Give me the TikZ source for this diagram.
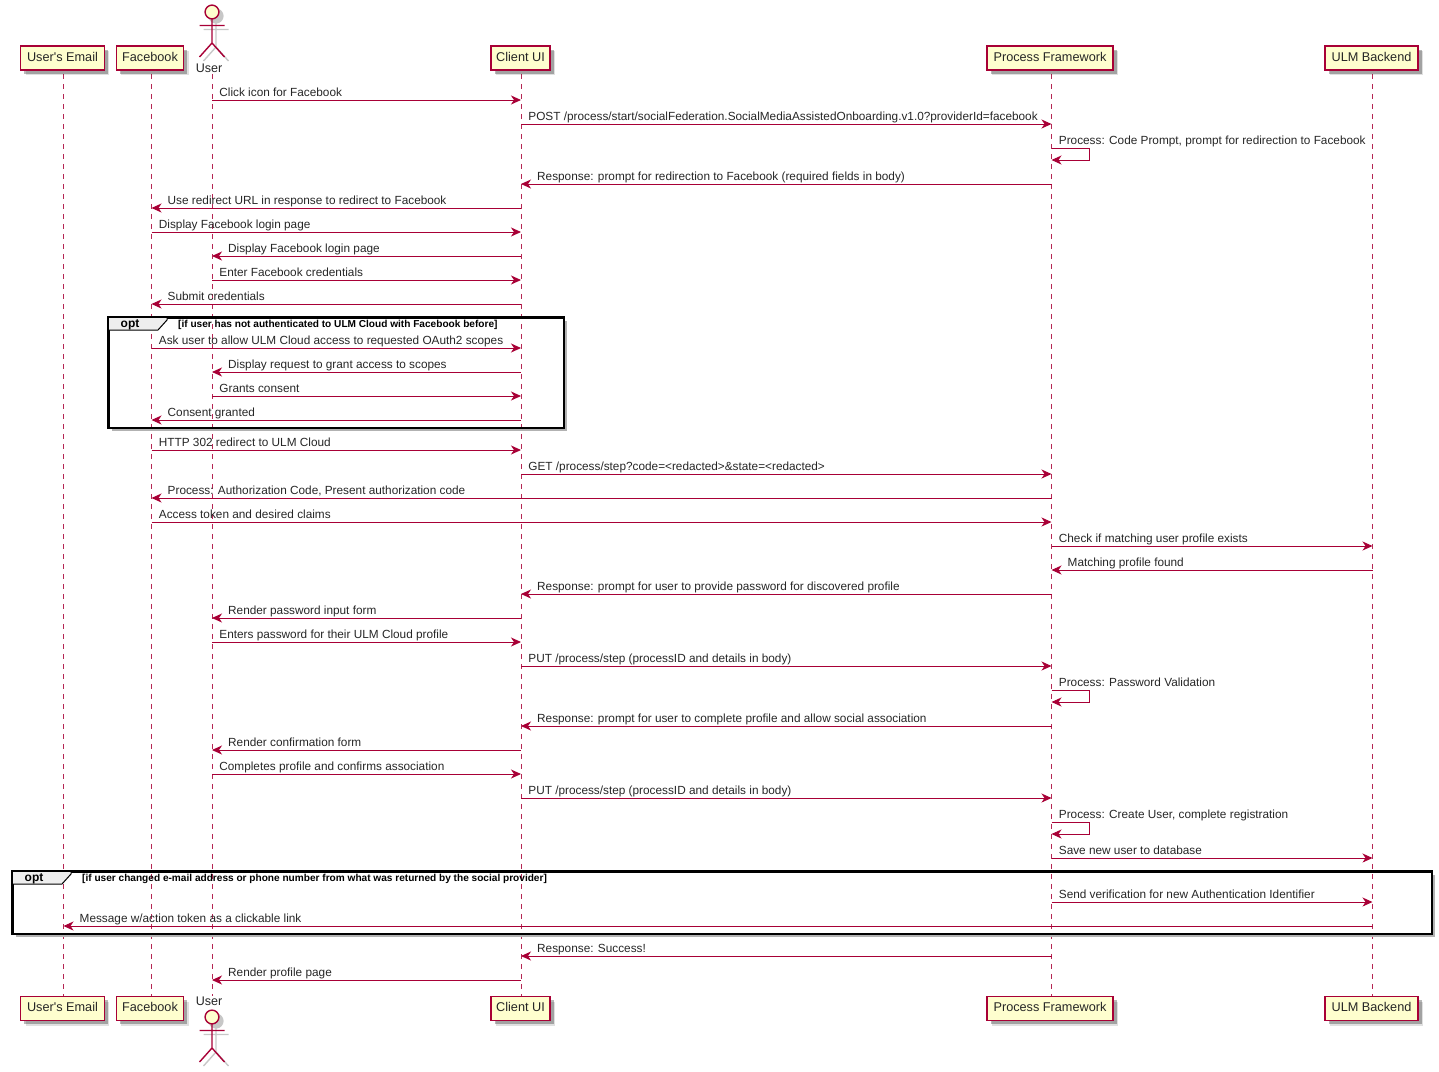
\documentclass[tikz,border=0pt]{standalone}
\usepackage{fontspec}
\setmainfont{Liberation Sans}
\usetikzlibrary{arrows.meta, shadows, calc}
\definecolor{seqred}{HTML}{A80036}
\definecolor{partfill}{HTML}{FEFECE}
\definecolor{tabfill}{HTML}{EEEEEE}
\tikzset{
	partbox/.style={draw=seqred, fill=partfill, line width=1.1pt, minimum height=24pt, inner sep=0pt, text=black!85, text height=9.5pt, text depth=2.8pt, font=\fontsize{12.7}{14}\selectfont,
		drop shadow={shadow xshift=5pt, shadow yshift=-5pt, fill=black, opacity=.12},
		drop shadow={shadow xshift=3.5pt, shadow yshift=-3.5pt, fill=black, opacity=.28}},
	lifeline/.style={seqred!85, line width=.8pt, dash pattern=on 5pt off 5pt},
	msg/.style={seqred, line width=.9pt, -{Stealth[length=10pt, width=9pt, inset=3pt]}},
	msglabel/.style={anchor=base west, inner sep=0pt, text=black!85, font=\fontsize{11.8}{13}\selectfont},
	actorname/.style={inner sep=0pt, text=black!85, font=\fontsize{12.5}{14}\selectfont},
	groupframe/.style={draw=black, line width=1.6pt, anchor=north west, inner sep=0pt},
	groupshadow/.style={black!30, line width=3.5pt},
	grouptab/.style={draw=black, fill=tabfill, line width=1pt},
	optlabel/.style={inner sep=0pt, font=\bfseries\fontsize{12}{14}\selectfont},
	guardlabel/.style={anchor=west, inner sep=0pt, font=\bfseries\fontsize{10.1}{12}\selectfont},
	actor/.pic={
		\foreach \shift/\col/\fil in {4/black!22/black!22, 0/seqred/partfill} {
			\begin{scope}[shift={(\shift,\shift)}, line width=1.4pt, draw=\col]
				\draw[fill=\fil] (0,8) circle (6.9pt);
				\draw (0,15) -- (0,39) (-12.5,21.5) -- (12.5,21.5) (-12.5,53) -- (0,39) -- (12.5,53);
			\end{scope}
		}
	}
}
\begin{document}
\begin{tikzpicture}[x=1pt, y=-1pt]
	\useasboundingbox (0,0) rectangle (1439,1071);

	% lifeline positions
	\coordinate (email) at (63.5,0);
	\coordinate (fb) at (151.5,0);
	\coordinate (user) at (212,0);
	\coordinate (client) at (521,0);
	\coordinate (pf) at (1051.5,0);
	\coordinate (ulm) at (1372.5,0);

	\foreach \who in {email, fb, user, client, pf, ulm} {
		\coordinate (\who top) at (\who |- 0,74);
		\coordinate (\who end) at (\who |- 0,996);
		\draw[lifeline] (\who top) -- (\who end);
	}

	% participants
	\foreach \pos/\yy in {T/58, B/1008.5} {
		\node[partbox, minimum width=83.5pt] (email\pos) at (62.5,\yy) {User\textquotesingle s Email};
		\node[partbox, minimum width=67.5pt] (fb\pos) at (150,\yy) {Facebook};
		\node[partbox, minimum width=59pt] (client\pos) at (520.5,\yy) {Client UI};
		\node[partbox, minimum width=126pt] (pf\pos) at (1050,\yy) {Process Framework};
		\node[partbox, minimum width=93pt] (ulm\pos) at (1371.5,\yy) {ULM Backend};
	}
	\pic (userT) at (212,4) {actor};
	\node[actorname] (userTname) at (209,68) {User};
	\node[actorname] (userBname) at (209,1001.5) {User};
	\pic (userB) at (212,1009) {actor};

	% opt groups
	\draw[groupshadow] (565.5,321) -- (565.5,429.5) -- (112,429.5);
	\draw[groupshadow] (1433.5,875) -- (1433.5,935.5) -- (16,935.5);
	\node[groupframe, minimum width=455pt, minimum height=110pt] (grpA) at (108,317) {};
	\node[groupframe, minimum width=1419pt, minimum height=62pt] (grpB) at (12,871) {};
	\draw[grouptab] (grpA.north west) -- ++(59,0) -- ++(0,3) -- ++(-9,10) -- ++(-50,0) -- cycle;
	\draw[grouptab] (grpB.north west) -- ++(59,0) -- ++(0,3) -- ++(-9,10) -- ++(-50,0) -- cycle;
	\draw[groupframe] (grpA.north west) rectangle (grpA.south east);
	\draw[groupframe] (grpB.north west) rectangle (grpB.south east);
	\node[optlabel] (optA) at (130,324.5) {opt};
	\node[optlabel] (optB) at (34,878.5) {opt};
	\node[guardlabel] (guardA) at (178,325) {[if user has not authenticated to ULM Cloud with Facebook before]};
	\node[guardlabel] (guardB) at (82,879) {[if user changed e-mail address or phone number from what was returned by the social provider]};

	% left to right
	\foreach \src/\dst/\yy/\txt in {
		user/client/100/{Click icon for Facebook},
		client/pf/124/{POST /process/start/socialFederation.SocialMediaAssistedOnboarding.v1.0?providerId=facebook},
		fb/client/232/{Display Facebook login page},
		user/client/280/{Enter Facebook credentials},
		fb/client/348/{Ask user to allow ULM Cloud access to requested OAuth2 scopes},
		user/client/396/{Grants consent},
		fb/client/450/{HTTP 302 redirect to ULM Cloud},
		client/pf/474/{GET /process/step?code=<redacted>\&state=<redacted>},
		fb/pf/522/{Access token and desired claims},
		pf/ulm/546/{Check if matching user profile exists},
		user/client/642/{Enters password for their ULM Cloud profile},
		client/pf/666/{PUT /process/step (processID and details in body)},
		user/client/774/{Completes profile and confirms association},
		client/pf/798/{PUT /process/step (processID and details in body)},
		pf/ulm/858/{Save new user to database},
		pf/ulm/902/{Send verification for new Authentication Identifier}} {
		\coordinate (from\yy) at (\src |- 0,\yy);
		\coordinate (to\yy) at (\dst |- 0,\yy);
		\draw[msg] (from\yy) -- (to\yy);
		\node[msglabel] (label\yy) at ($(from\yy)+(7.2,-3.3)$) {\txt};
	}

	% right to left
	\foreach \src/\dst/\yy/\txt in {
		pf/client/184/{Response: prompt for redirection to Facebook (required fields in body)},
		client/fb/208/{Use redirect URL in response to redirect to Facebook},
		client/user/256/{Display Facebook login page},
		client/fb/304/{Submit credentials},
		client/user/372/{Display request to grant access to scopes},
		client/fb/420/{Consent granted},
		pf/fb/498/{Process: Authorization Code, Present authorization code},
		ulm/pf/570/{Matching profile found},
		pf/client/594/{Response: prompt for user to provide password for discovered profile},
		client/user/618/{Render password input form},
		pf/client/726/{Response: prompt for user to complete profile and allow social association},
		client/user/750/{Render confirmation form},
		ulm/email/926/{Message w/action token as a clickable link},
		pf/client/956/{Response: Success!},
		client/user/980/{Render profile page}} {
		\coordinate (from\yy) at (\src |- 0,\yy);
		\coordinate (to\yy) at (\dst |- 0,\yy);
		\draw[msg] (from\yy) -- (to\yy);
		\node[msglabel] (label\yy) at ($(to\yy)+(16,-3.3)$) {\txt};
	}

	% self messages
	\foreach \yy/\txt in {
		148/{Process: Code Prompt, prompt for redirection to Facebook},
		690/{Process: Password Validation},
		822/{Process: Create User, complete registration}} {
		\coordinate (from\yy) at (pf |- 0,\yy);
		\coordinate (to\yy) at ($(from\yy)+(0,12)$);
		\draw[msg] (from\yy) -- ++(38,0) -- ++(0,12) -- (to\yy);
		\node[msglabel] (label\yy) at ($(from\yy)+(7.2,-3.3)$) {\txt};
	}
\end{tikzpicture}
\end{document}
